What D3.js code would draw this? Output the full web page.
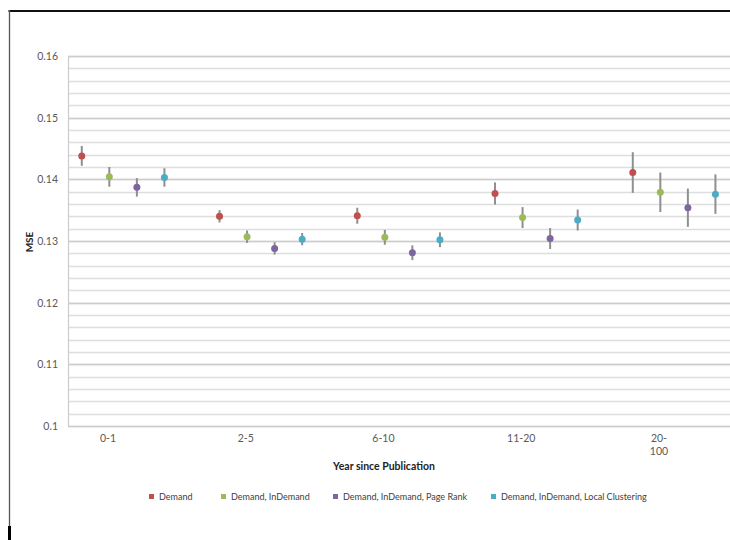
<!DOCTYPE html>
<html>
<head>
<meta charset="utf-8">
<script src="https://cdn.jsdelivr.net/npm/d3@7"></script>
<style>
  html, body { margin: 0; padding: 0; background: #fff; }
  svg { display: block; font-family: Lato, "Open Sans", sans-serif; }
</style>
</head>
<body>
<svg id="chart" width="730" height="540"></svg>
<script>
// Periods since publication (x categories)
const categories = ["0-1", "2-5", "6-10", "11-20", "20-100"];
const categoryLabels = [["0-1"], ["2-5"], ["6-10"], ["11-20"], ["20-", "100"]];

// Model variants
const seriesNames = [
  "Demand",
  "Demand, InDemand",
  "Demand, InDemand, Page Rank",
  "Demand, InDemand, Local Clustering"
];
const seriesColors = ["#C0504D", "#9BBB59", "#8064A2", "#4BACC6"];

// Mean squared error per period, one array per model
const mseDemand          = [0.1438, 0.1340, 0.1341, 0.1377, 0.1411];
const mseInDemand        = [0.1404, 0.1307, 0.1306, 0.1338, 0.1379];
const msePageRank        = [0.1387, 0.1288, 0.1281, 0.1304, 0.1354];
const mseLocalClustering = [0.1403, 0.1303, 0.1302, 0.1334, 0.1376];

// Error bar half-widths
const errDemand          = [0.0016, 0.0010, 0.0013, 0.0018, 0.0033];
const errInDemand        = [0.0016, 0.0010, 0.0012, 0.0017, 0.0032];
const errPageRank        = [0.0015, 0.0010, 0.0012, 0.0017, 0.0031];
const errLocalClustering = [0.0015, 0.0010, 0.0012, 0.0017, 0.0032];

// Y axis ticks
const yMajorTicks = [0.10, 0.11, 0.12, 0.13, 0.14, 0.15, 0.16];
const yMinorTicks = d3.range(0, 31).map(i => 0.10 + i * 0.002);

const seriesValues = [mseDemand, mseInDemand, msePageRank, mseLocalClustering];
const seriesErrors = [errDemand, errInDemand, errPageRank, errLocalClustering];

const svg = d3.select("#chart");

// Outer frame (top and left edges)
svg.append("line").attr("x1", 8.5).attr("x2", 730).attr("y1", 11).attr("y2", 11)
  .attr("stroke", "#111").attr("stroke-width", 2);
svg.append("line").attr("x1", 9.5).attr("x2", 9.5).attr("y1", 10).attr("y2", 527)
  .attr("stroke", "#555").attr("stroke-width", 1.3);
svg.append("line").attr("x1", 9.5).attr("x2", 9.5).attr("y1", 526).attr("y2", 540)
  .attr("stroke", "#000").attr("stroke-width", 3);

const plot = { left: 68, top: 56, bottom: 426, bandWidth: 137.75 };

const y = d3.scaleLinear().domain([0.10, 0.16]).range([plot.bottom, plot.top]);
const x = d3.scaleBand().domain(categories)
  .range([plot.left, plot.left + plot.bandWidth * categories.length])
  .paddingInner(0).paddingOuter(0);
// Five slots per category: four models plus an empty gap
const slot = d3.scaleBand().domain(d3.range(5)).range([0, x.bandwidth()]);

const plotRight = 730;

// Minor gridlines
svg.append("g").selectAll("line").data(yMinorTicks).join("line")
  .attr("x1", plot.left).attr("x2", plotRight)
  .attr("y1", d => Math.round(y(d)) + 0.5).attr("y2", d => Math.round(y(d)) + 0.5)
  .attr("stroke", "#dedede").attr("stroke-width", 1.3);

// Major gridlines
svg.append("g").selectAll("line").data(yMajorTicks).join("line")
  .attr("x1", plot.left).attr("x2", plotRight)
  .attr("y1", d => Math.round(y(d)) + 0.5).attr("y2", d => Math.round(y(d)) + 0.5)
  .attr("stroke", "#cccccc").attr("stroke-width", 1.3);

// Left axis line
svg.append("line").attr("x1", plot.left + 0.5).attr("x2", plot.left + 0.5)
  .attr("y1", plot.top).attr("y2", plot.bottom + 1)
  .attr("stroke", "#cccccc").attr("stroke-width", 1.2);

// Y axis labels
const yAxis = d3.axisLeft(y).tickValues(yMajorTicks)
  .tickFormat(d => d3.format("")(+d.toFixed(2))).tickSize(0).tickPadding(10);
const yG = svg.append("g").attr("transform", `translate(${plot.left},0)`).call(yAxis);
yG.select(".domain").remove();
yG.selectAll("text").attr("fill", "#595959").attr("font-size", 10.5)
  .attr("font-family", "Lato, sans-serif");

// Y axis title
svg.append("text").attr("transform", "translate(33,242) rotate(-90)")
  .attr("text-anchor", "middle").attr("font-size", 10).attr("font-weight", "bold")
  .attr("fill", "#222").text("MSE");

// X category labels
const xl = svg.append("g");
categories.forEach((c, i) => {
  const t = xl.append("text")
    .attr("x", x(c) + x.bandwidth() * 0.29)
    .attr("y", 442).attr("text-anchor", "middle")
    .attr("font-size", 10.5).attr("fill", "#595959");
  categoryLabels[i].forEach((line, j) => {
    t.append("tspan").attr("x", x(c) + x.bandwidth() * 0.29)
      .attr("dy", j === 0 ? 0 : 12.5).text(line);
  });
});

// X axis title
svg.append("text").attr("x", 384).attr("y", 470).attr("text-anchor", "middle")
  .attr("font-size", 10.5).attr("font-weight", "bold").attr("fill", "#222")
  .text("Year since Publication");

// Error bars and points
seriesNames.forEach((name, s) => {
  const g = svg.append("g");
  const pts = categories.map((c, i) => ({
    cx: x(c) + slot(s) + slot.bandwidth() / 2,
    v: seriesValues[s][i],
    e: seriesErrors[s][i]
  }));
  g.selectAll("line").data(pts).join("line")
    .attr("x1", d => d.cx).attr("x2", d => d.cx)
    .attr("y1", d => y(d.v + d.e)).attr("y2", d => y(d.v - d.e))
    .attr("stroke", "#8f8f8f").attr("stroke-width", 2);
  g.selectAll("circle").data(pts).join("circle")
    .attr("cx", d => d.cx).attr("cy", d => y(d.v)).attr("r", 3.5)
    .attr("fill", seriesColors[s]);
});

// Legend
const legendX = [149, 221, 333, 491];
const legend = svg.append("g");
seriesNames.forEach((name, s) => {
  legend.append("rect").attr("x", legendX[s]).attr("y", 494)
    .attr("width", 5).attr("height", 5).attr("fill", seriesColors[s]);
  legend.append("text").attr("x", legendX[s] + 10).attr("y", 500)
    .attr("font-size", 9).attr("fill", "#404040").text(name);
});
</script>
</body>
</html>
